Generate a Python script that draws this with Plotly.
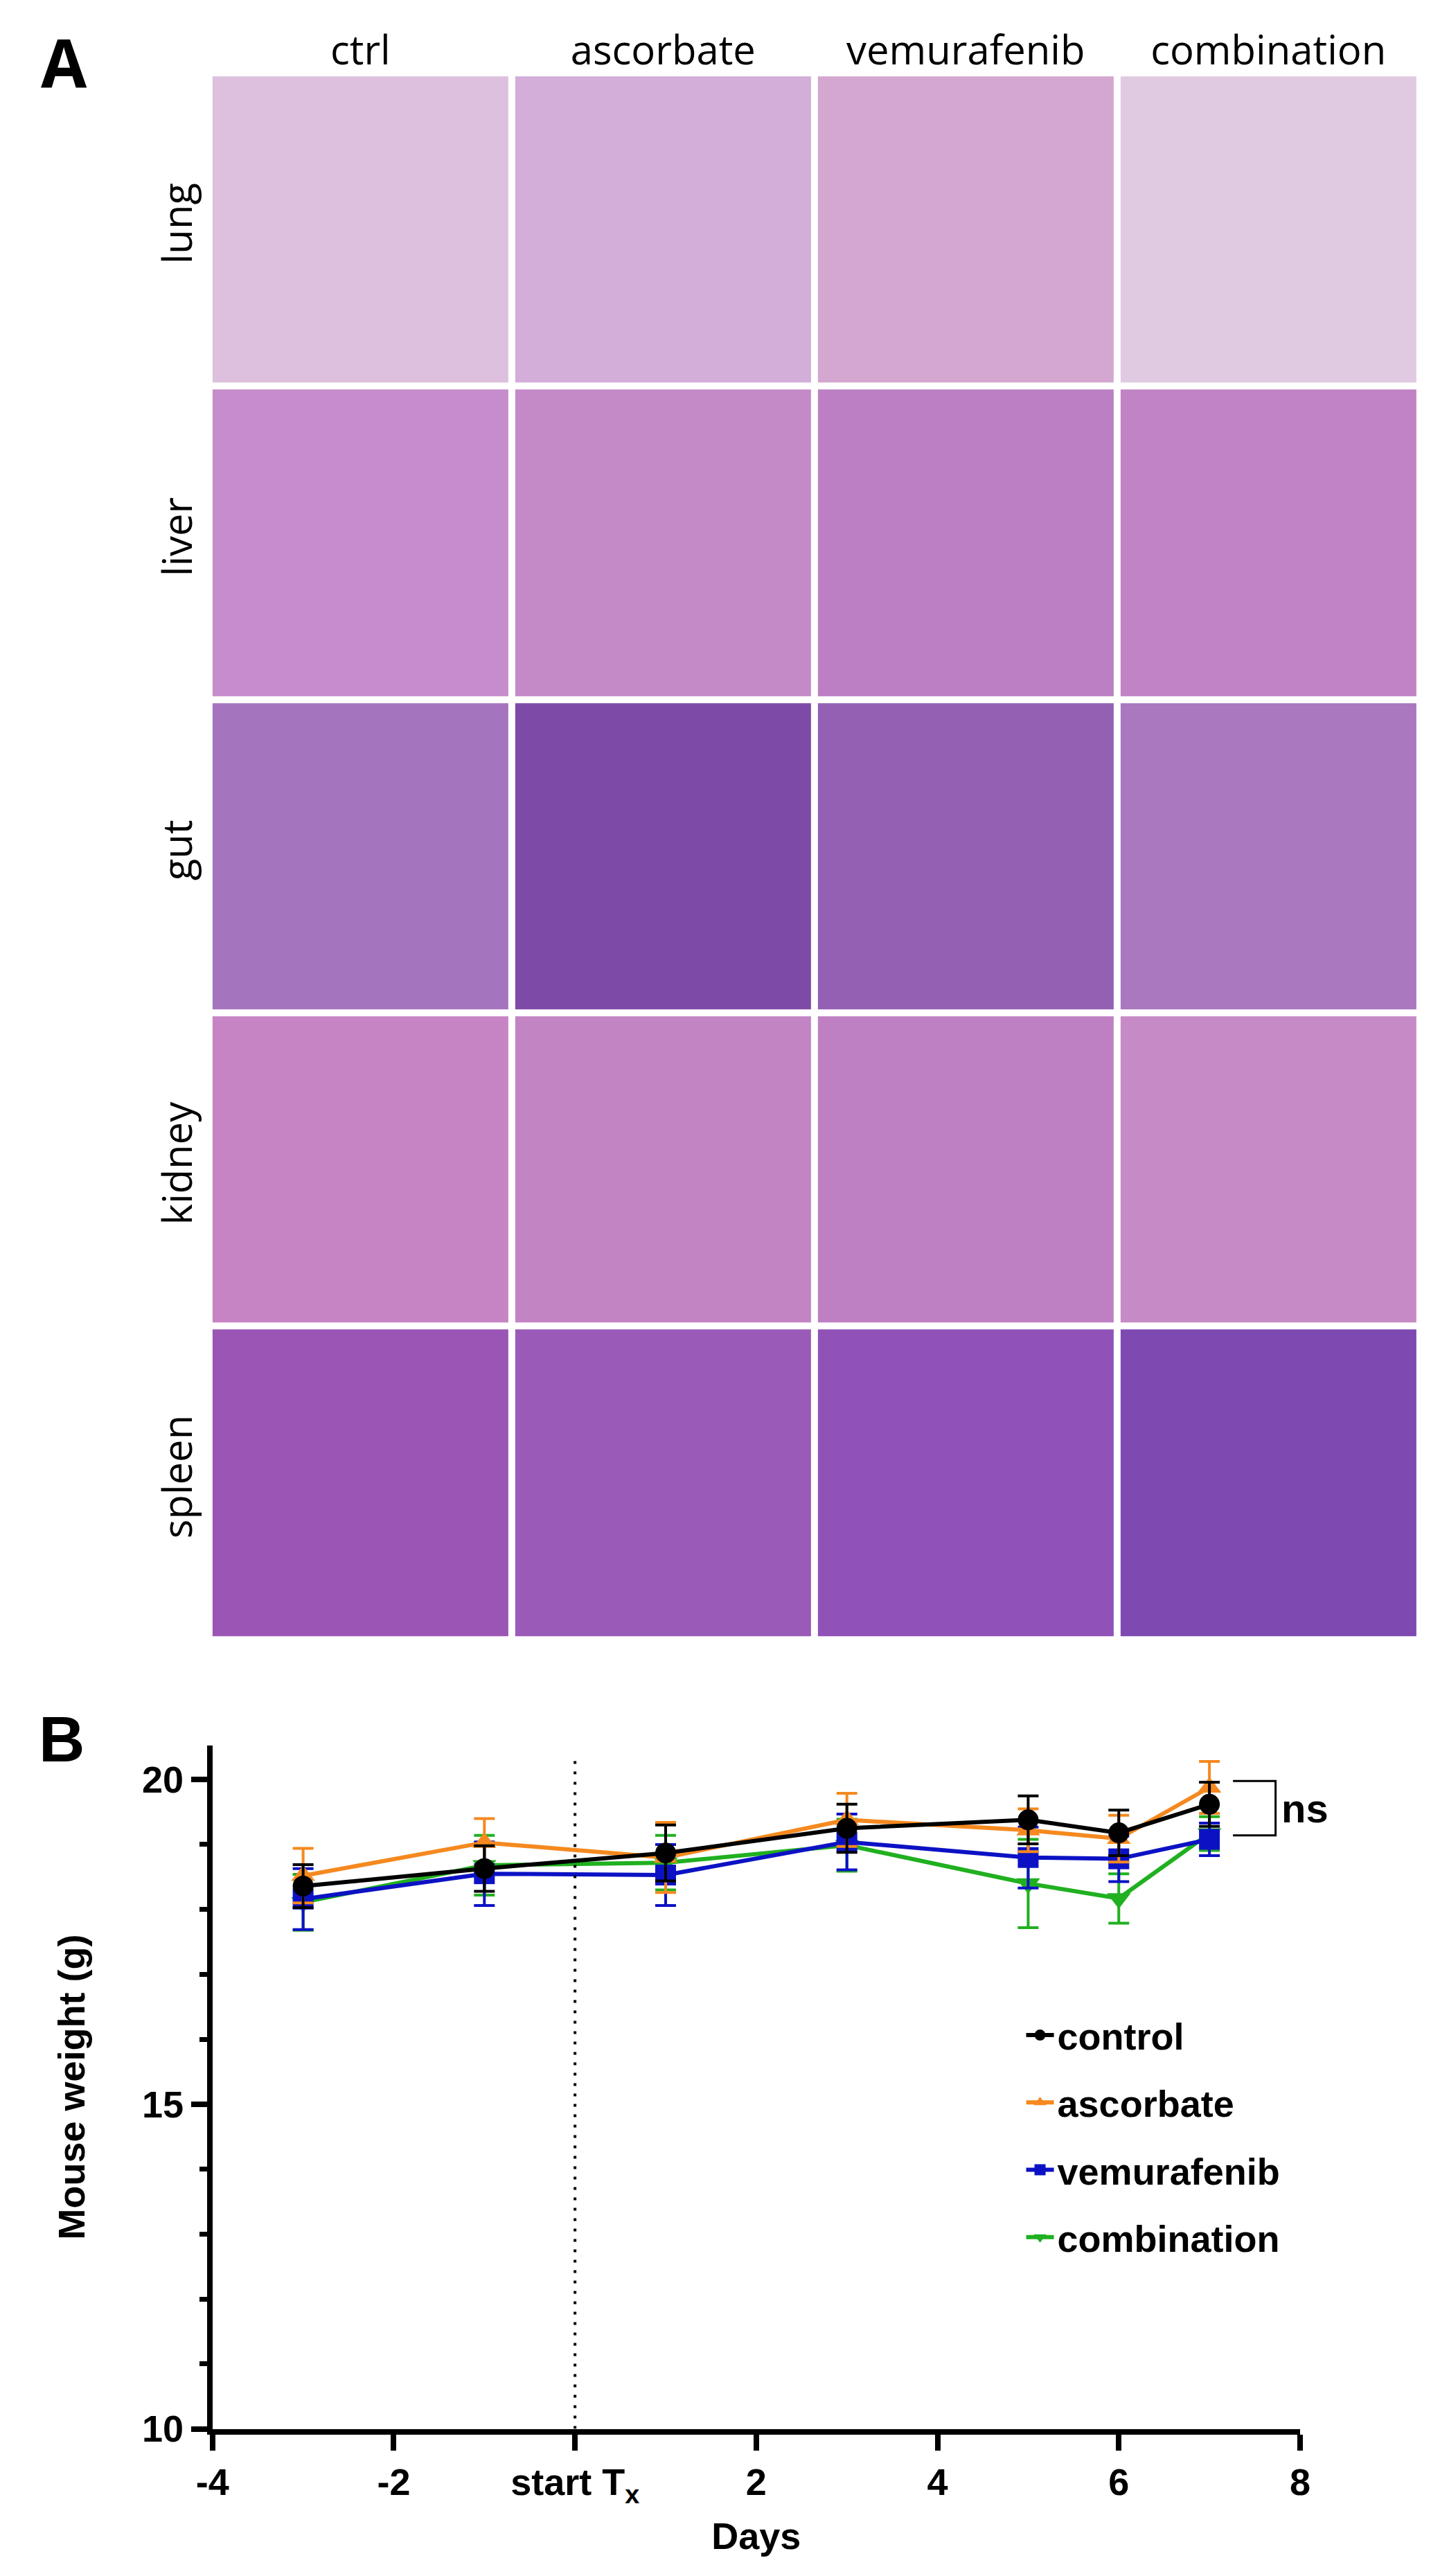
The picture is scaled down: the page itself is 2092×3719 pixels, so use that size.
import plotly.graph_objects as go

W, H = 2092, 3719

# Painel A: grade de cortes histológicos (cor média de cada lâmina)
treatments = ["ctrl", "ascorbate", "vemurafenib", "combination"]
tissues = ["lung", "liver", "gut", "kidney", "spleen"]
lung_colors = ["#dcc0de", "#d2aed8", "#d3a7cf", "#e0cae2"]
liver_colors = ["#c68ccb", "#c48ac8", "#bc7fc4", "#c283c4"]
gut_colors = ["#a574bf", "#7e4aa8", "#9460b4", "#a978bf"]
kidney_colors = ["#c784c4", "#c284c3", "#bf80c3", "#c68bc6"]
spleen_colors = ["#9a55b5", "#9a5ab8", "#9152b8", "#7f49b2"]

# Painel B: peso dos camundongos (média ± SEM)
days = [-3, -1, 1, 3, 5, 6, 7]
control_mean = [18.36, 18.63, 18.87, 19.25, 19.38, 19.18, 19.62]
control_sem = [0.33, 0.35, 0.43, 0.37, 0.37, 0.35, 0.34]
ascorbate_mean = [18.52, 19.03, 18.80, 19.38, 19.22, 19.09, 19.88]
ascorbate_sem = [0.42, 0.37, 0.54, 0.41, 0.33, 0.36, 0.40]
vemurafenib_mean = [18.16, 18.55, 18.53, 19.04, 18.80, 18.78, 19.08]
vemurafenib_sem = [0.47, 0.49, 0.47, 0.43, 0.47, 0.35, 0.25]
combination_mean = [18.11, 18.68, 18.72, 18.99, 18.40, 18.17, 19.17]
combination_sem = [0.43, 0.46, 0.42, 0.40, 0.68, 0.38, 0.26]

x_ticks = [-4, -2, 0, 2, 4, 6, 8]
x_ticktext = ["-4", "-2", "start T<sub>x</sub>", "2", "4", "6", "8"]
y_ticks = [10, 15, 20]
ns_bracket = [19.14, 19.98]


def px_x(p):
    return p / W


def px_y(p):
    return 1 - p / H


fig = go.Figure()

# 1. Grade de imagens como heatmap de cores discretas
grid_colors = [lung_colors, liver_colors, gut_colors, kidney_colors, spleen_colors]
flat = [c for row in grid_colors for c in row]
n = len(flat)
colorscale = []
for i, c in enumerate(flat):
    colorscale.append([i / n, c])
    colorscale.append([(i + 1) / n, c])
z = [[r * len(treatments) + c for c in range(len(treatments))] for r in range(len(tissues))]

fig.add_trace(go.Heatmap(
    x=treatments, y=tissues, z=z, zmin=-0.5, zmax=n - 0.5,
    colorscale=colorscale, showscale=False, xgap=10, ygap=10,
    hoverinfo="skip", xaxis="x2", yaxis="y2", showlegend=False))

# 2. Curvas de peso (ordem de desenho: verde, azul, laranja, preto)
series = [
    ("combination", combination_mean, combination_sem, "#20b020", "triangle-down", 4),
    ("vemurafenib", vemurafenib_mean, vemurafenib_sem, "#0c12c4", "square", 3),
    ("ascorbate", ascorbate_mean, ascorbate_sem, "#f5891f", "triangle-up", 2),
    ("control", control_mean, control_sem, "#000000", "circle", 1),
]
for name, mean, sem, color, symbol, rank in series:
    fig.add_trace(go.Scatter(
        x=days, y=mean, name=name, mode="lines+markers",
        line=dict(color=color, width=6),
        marker=dict(color=color, symbol=symbol, size=30),
        error_y=dict(type="data", array=sem, color=color, thickness=4, width=15),
        legendrank=rank, legendgroup=name))

# 3. Linha pontilhada de início do tratamento e colchete "ns"
fig.add_shape(type="line", x0=0, x1=0, y0=10, y1=20.4, xref="x", yref="y",
              line=dict(color="black", width=4, dash="4px,11px"))
fig.add_shape(type="path", xref="x", yref="y",
              path=f"M 7.26 {ns_bracket[1]} L 7.73 {ns_bracket[1]} L 7.73 {ns_bracket[0]} L 7.26 {ns_bracket[0]}",
              line=dict(color="black", width=3))

bold = dict(family="Liberation Sans, Arial", size=54, color="black", weight="bold")

fig.add_annotation(x=7.78, y=sum(ns_bracket) / 2, xref="x", yref="y", text="ns",
                   showarrow=False, xanchor="left", yanchor="middle",
                   font=dict(family="Liberation Sans, Arial", size=58, color="black", weight="bold"))
fig.add_annotation(x=px_x(62), y=px_y(82), xref="paper", yref="paper", text="A",
                   showarrow=False, xanchor="center", yanchor="middle",
                   font=dict(family="Open Sans", size=96, color="black", weight="bold"))
fig.add_annotation(x=px_x(58), y=px_y(2523), xref="paper", yref="paper", text="B",
                   showarrow=False, xanchor="center", yanchor="middle",
                   font=dict(family="Liberation Sans, Arial", size=92, color="black", weight="bold"))

label_font = dict(family="Open Sans", size=58, color="black")

fig.update_layout(
    width=W, height=H, autosize=False,
    margin=dict(l=0, r=0, t=0, b=0),
    paper_bgcolor="white", plot_bgcolor="white",
    xaxis=dict(domain=[px_x(280), px_x(1880)], range=[-4, 8], anchor="y",
               tickvals=x_ticks, ticktext=x_ticktext, ticks="outside", ticklen=23,
               tickwidth=8, tickcolor="black", showline=True, linewidth=8, linecolor="black",
               showgrid=False, zeroline=False, tickfont=bold,
               title=dict(text="Days", font=bold, standoff=25)),
    yaxis=dict(domain=[px_y(3527), px_y(2532)], range=[10, 20.53], anchor="x",
               tickvals=y_ticks, ticks="outside", ticklen=23, tickwidth=8, tickcolor="black",
               minor=dict(dtick=1, tick0=10, ticks="outside", ticklen=11, tickwidth=7, tickcolor="black"),
               showline=True, linewidth=8, linecolor="black",
               showgrid=False, zeroline=False, tickfont=bold,
               title=dict(text="Mouse weight (g)", font=bold, standoff=68)),
    xaxis2=dict(domain=[px_x(275), px_x(2056)], anchor="y2", side="top",
                showgrid=False, zeroline=False, showline=False, ticks="",
                tickfont=label_font, fixedrange=True),
    yaxis2=dict(domain=[px_y(2378), px_y(98)], anchor="x2", autorange="reversed",
                showgrid=False, zeroline=False, showline=False, ticks="",
                ticklabelstandoff=12,
                tickangle=-90, tickfont=label_font, fixedrange=True),
    legend=dict(x=px_x(1472), y=px_y(2912), xanchor="left", yanchor="top",
                font=bold, bgcolor="rgba(0,0,0,0)", tracegroupgap=24,
                itemwidth=40),
    showlegend=True,
)

fig.write_html("out.html")
